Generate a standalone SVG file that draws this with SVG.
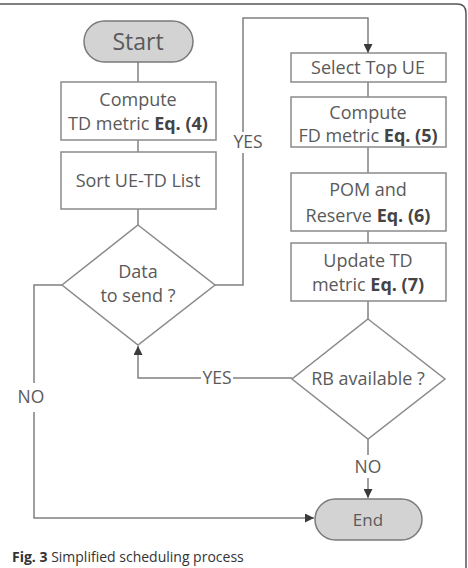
<svg xmlns="http://www.w3.org/2000/svg" width="468" height="568" viewBox="0 0 468 568">
<defs>
<style>
.box{fill:#fff;stroke:#8a8a8a;stroke-width:1.5}
.term{fill:#d3d3d3;stroke:#7a7a7a;stroke-width:1.5}
.ln{fill:none;stroke:#808080;stroke-width:1.5}
.t{font-family:"Open Sans","DejaVu Sans",sans-serif;font-size:18px;fill:#5a5a5a;text-anchor:middle}
.b{font-weight:bold;fill:#444}
.lbl{font-family:"Open Sans","DejaVu Sans",sans-serif;font-size:17.5px;fill:#5a5a5a;text-anchor:middle}
</style>
<marker id="arr" viewBox="0 0 10 10" refX="10" refY="5" markerWidth="9" markerHeight="9" markerUnits="userSpaceOnUse" orient="auto">
<path d="M0,0 L10,5 L0,10 z" fill="#3a3a3a"/>
</marker>
</defs>
<rect width="468" height="568" fill="#fff"/>
<path d="M0,4 H457 Q466,4 466,13 V568" fill="none" stroke="#555" stroke-width="1.5"/>

<g id="connectors">
<line class="ln" x1="138" y1="62" x2="138" y2="82"/>
<line class="ln" x1="138" y1="140" x2="138" y2="152"/>
<line class="ln" x1="138" y1="209" x2="138" y2="225"/>
<path class="ln" d="M215,285 H243 V153"/>
<path class="ln" d="M243,132 V18 H368 V53" marker-end="url(#arr)"/>
<line class="ln" x1="368" y1="82" x2="368" y2="97"/>
<line class="ln" x1="368" y1="147" x2="368" y2="173"/>
<line class="ln" x1="368" y1="231" x2="368" y2="243"/>
<line class="ln" x1="368" y1="301" x2="368" y2="319"/>
<path class="ln" d="M292,378 H233"/>
<path class="ln" d="M201,378 H138 V346" marker-end="url(#arr)"/>
<path class="ln" d="M62,285 H34 V383"/>
<path class="ln" d="M34,412 V518 H314" marker-end="url(#arr)"/>
<line class="ln" x1="368" y1="439" x2="368" y2="455"/>
<line class="ln" x1="368" y1="478" x2="368" y2="498" marker-end="url(#arr)"/>
<text class="lbl" x="248" y="148">YES</text>
<text class="lbl" x="217" y="384">YES</text>
<text class="lbl" x="31" y="403">NO</text>
<text class="lbl" x="368" y="473">NO</text>
</g>

<g id="start">
<rect class="term" x="84" y="21" width="109" height="41" rx="20.5"/>
<text class="t" x="138" y="50" style="font-size:23px">Start</text>
</g>
<g id="compute-td">
<rect class="box" x="61" y="82" width="155" height="58"/>
<text class="t" x="138" y="106">Compute</text>
<text class="t" x="138" y="130">TD metric <tspan class="b">Eq. (4)</tspan></text>
</g>
<g id="sort">
<rect class="box" x="61" y="152" width="155" height="57"/>
<text class="t" x="138" y="187">Sort UE-TD List</text>
</g>
<g id="data-to-send">
<polygon class="box" points="138,225 215,285 138,345 62,285"/>
<text class="t" x="138" y="278">Data</text>
<text class="t" x="138" y="302">to send ?</text>
</g>
<g id="select-top">
<rect class="box" x="291" y="53" width="155" height="29"/>
<text class="t" x="368" y="74">Select Top UE</text>
</g>
<g id="compute-fd">
<rect class="box" x="291" y="97" width="155" height="50"/>
<text class="t" x="368" y="119">Compute</text>
<text class="t" x="368" y="142">FD metric <tspan class="b">Eq. (5)</tspan></text>
</g>
<g id="pom">
<rect class="box" x="291" y="173" width="155" height="58"/>
<text class="t" x="368" y="196">POM and</text>
<text class="t" x="368" y="222">Reserve <tspan class="b">Eq. (6)</tspan></text>
</g>
<g id="update-td">
<rect class="box" x="291" y="243" width="155" height="58"/>
<text class="t" x="368" y="267">Update TD</text>
<text class="t" x="368" y="291">metric <tspan class="b">Eq. (7)</tspan></text>
</g>
<g id="rb-available">
<polygon class="box" points="368,319 445,379 368,439 292,379"/>
<text class="t" x="368" y="385">RB available ?</text>
</g>
<g id="end">
<rect class="term" x="315" y="499" width="107" height="41" rx="20.5"/>
<text class="t" x="368" y="526" style="font-size:17px">End</text>
</g>
<text x="12" y="562" font-family="'Open Sans','DejaVu Sans',sans-serif" font-size="14" fill="#333"><tspan font-weight="bold">Fig. 3</tspan> Simplified scheduling process</text>
</svg>
